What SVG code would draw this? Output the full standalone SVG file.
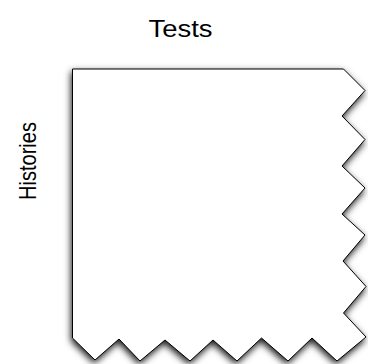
<svg xmlns="http://www.w3.org/2000/svg" width="368" height="364" viewBox="0 0 368 364">
<style>
.lbl{font-family:"Liberation Sans",Arial,sans-serif;font-size:24px;fill:#000}
.shape{fill:#fff;stroke:#000;stroke-width:1;stroke-linejoin:miter}
</style>
<defs>
<filter id="sh" x="-10%" y="-10%" width="120%" height="120%">
<feDropShadow dx="-1" dy="3" stdDeviation="3.5" flood-color="#000" flood-opacity="0.9"/>
</filter>
</defs>
<rect width="368" height="364" fill="#fff"/>
<g id="matrix">
<path class="shape" filter="url(#sh)" d="M72.5,69 L343.5,69 L365,90.5 L342,116 L365,139.5 L342,166 L365,188 L342,214 L365,235 L343,261 L366,286.5 L343.5,313 L366,337 L337,361 L312,338 L288,361 L261.5,338 L237,361 L213,340 L190,361 L165,340 L140,361 L119,339 L95,360 L72.5,338 Z"/>
</g>
<g id="labels">
<text class="lbl" x="180.5" y="37" text-anchor="middle" textLength="64" lengthAdjust="spacingAndGlyphs">Tests</text>
<text class="lbl" transform="translate(35.5,161) rotate(-90)" text-anchor="middle" textLength="78" lengthAdjust="spacingAndGlyphs">Histories</text>
</g>
</svg>
